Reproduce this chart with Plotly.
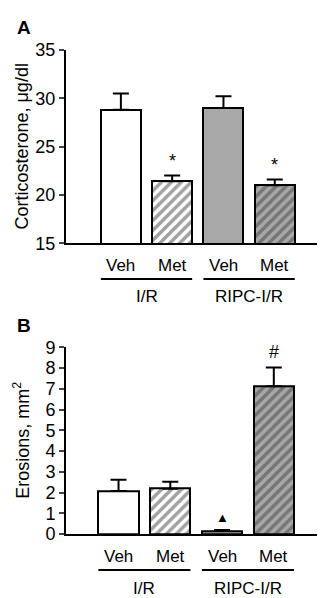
import plotly.graph_objects as go

W, H = 325, 598

# ---- data ----
treatments = ["Veh", "Met", "Veh", "Met"]
groups = ["I/R", "RIPC-I/R"]
cort_mean = [28.8, 21.4, 29.0, 21.0]
cort_sem = [1.7, 0.6, 1.2, 0.6]
cort_marks = ["", "*", "", "*"]
eros_mean = [2.08, 2.19, 0.15, 7.13]
eros_sem = [0.54, 0.33, 0.05, 0.90]
eros_marks = ["", "", "\u25B2", "#"]
cort_ticks = [15, 20, 25, 30, 35]
eros_ticks = [0, 1, 2, 3, 4, 5, 6, 7, 8, 9]

# ---- styles ----
fills = ["white", "white", "#a8a8a8", "#a8a8a8"]
patterns = ["", "/", "", "/"]
FONT = "Liberation Sans"

def px_x(p):
    return p / W

def px_y(p):
    return 1 - p / H

fig = go.Figure()
xs = list(range(len(treatments)))

panels = [
    dict(mean=cort_mean, sem=cort_sem, marks=cort_marks, xa="x", ya="y",
         ticks=cort_ticks, rng=[15, 35], top=33, bot=233, xr=[-1.07, 3.96],
         title="Corticosterone, \u03bcg/dl", label="A", label_y=10,
         lab_y=256, line_y=270, grp_y=288, mark_shift=[0, 15, 0, 14]),
    dict(mean=eros_mean, sem=eros_sem, marks=eros_marks, xa="x2", ya="y2",
         ticks=eros_ticks, rng=[0, 9], top=340.7, bot=534, xr=[-1.015, 3.97],
         title="Erosions, mm<sup>2</sup>", label="B", label_y=318,
         lab_y=557, line_y=571, grp_y=590, mark_shift=[0, 0, 12, 15]),
]

for p in panels:
    fig.add_trace(go.Bar(
        x=xs, y=p["mean"], xaxis=p["xa"], yaxis=p["ya"], width=0.78,
        marker=dict(color=fills, line=dict(color="black", width=2),
                    pattern=dict(shape=patterns, fgcolor="black", size=7, solidity=0.5)),
        error_y=dict(type="data", symmetric=False, array=p["sem"],
                     arrayminus=[0] * 4, color="black", thickness=2, width=8),
        showlegend=False,
    ))

axis_common = dict(showgrid=False, zeroline=False, showline=True,
                   linecolor="black", linewidth=2)

fig.update_layout(
    width=W, height=H, margin=dict(l=0, r=0, t=0, b=0),
    plot_bgcolor="white", paper_bgcolor="white", bargap=0,
    font=dict(family=FONT, color="black"),
    xaxis=dict(domain=[px_x(58), px_x(316)], range=panels[0]["xr"], anchor="y",
               showticklabels=False, ticks="", **axis_common),
    yaxis=dict(domain=[px_y(233), px_y(33)], range=panels[0]["rng"], anchor="x",
               tickvals=cort_ticks, ticks="outside", ticklen=5, tickwidth=2,
               tickfont=dict(size=18), **axis_common),
    xaxis2=dict(domain=[px_x(58), px_x(316)], range=panels[1]["xr"], anchor="y2",
                showticklabels=False, ticks="", **axis_common),
    yaxis2=dict(domain=[px_y(534), px_y(340.7)], range=panels[1]["rng"], anchor="x2",
                tickvals=eros_ticks, ticks="outside", ticklen=5, tickwidth=2,
                tickfont=dict(size=18), **axis_common),
)

ann = []
shapes = []
for p in panels:
    xa, ya = p["xa"], p["ya"]
    for j, m in enumerate(p["marks"]):
        if m:
            ann.append(dict(x=xs[j], y=p["mean"][j] + p["sem"][j], xref=xa, yref=ya,
                            text=m, showarrow=False, yanchor="middle",
                            yshift=p["mark_shift"][j],
                            font=dict(size=18 if m != "\u25B2" else 13)))
    for j, t in enumerate(treatments):
        ann.append(dict(x=xs[j], y=px_y(p["lab_y"]), xref=xa, yref="paper",
                        text=t, showarrow=False, yanchor="middle",
                        font=dict(size=17)))
    for g, name in enumerate(groups):
        x0, x1 = xs[2 * g] - 0.39, xs[2 * g + 1] + 0.39
        shapes.append(dict(type="line", xref=xa, yref="paper", x0=x0, x1=x1,
                           y0=px_y(p["line_y"]), y1=px_y(p["line_y"]),
                           line=dict(color="black", width=2)))
        ann.append(dict(x=(x0 + x1) / 2, y=px_y(p["grp_y"]), xref=xa, yref="paper",
                        text=name, showarrow=False, yanchor="middle",
                        font=dict(size=17)))
    ann.append(dict(x=px_x(14), y=px_y((p["top"] + p["bot"]) / 2), xref="paper",
                    yref="paper", text=p["title"], textangle=-90, showarrow=False,
                    xanchor="center", yanchor="middle", font=dict(size=18)))
    ann.append(dict(x=px_x(7), y=px_y(p["label_y"]), xref="paper", yref="paper",
                    text="<b>" + p["label"] + "</b>", showarrow=False,
                    xanchor="left", yanchor="middle", font=dict(size=19)))

fig.update_layout(annotations=ann, shapes=shapes)
fig.write_html("out.html")
